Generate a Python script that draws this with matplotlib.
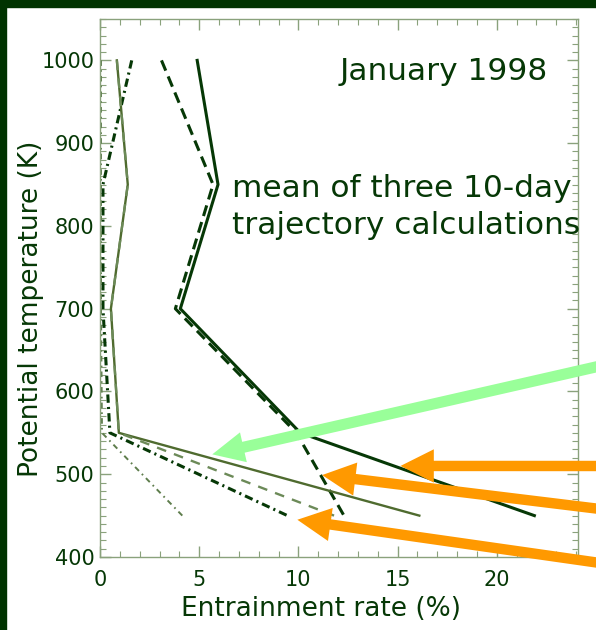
import matplotlib; matplotlib.use("Agg")
import matplotlib.pyplot as plt
from matplotlib.patches import Rectangle
from matplotlib.ticker import MultipleLocator

theta = [1000, 850, 700, 550, 450]
thick_solid = [4.9, 5.95, 4.05, 10.1, 21.9]
thick_dash = [3.1, 5.7, 3.8, 9.9, 12.3]
thick_dashdot = [1.6, 0.15, 0.15, 0.5, 9.45]
thin_solid = [0.85, 1.4, 0.55, 0.95, 16.1]
thin_dash = [0.85, 1.4, 0.55, 0.95, 11.8]
thin_dashdot = [0.05, 0.05, 0.05, 0.1, 4.15]

# arrow tips (data) and tails (figure pixels, from top-left)
green_tip = (5.66, 524); green_tail = (600, 366)
orange_tips = [(15.15, 510), (11.2, 499), (9.95, 445)]
orange_tails = [(600, 466), (600, 509), (600, 563)]

W, H = 596, 630
dark = "#063806"; olive = "#4f6b2f"; axcol = "#8aa27c"
plt.rcParams["lines.scale_dashes"] = False
plt.rcParams["font.family"] = "DejaVu Sans"

fig = plt.figure(figsize=(W/100, H/100), dpi=100, facecolor="white")
fig.patches.append(Rectangle((0, 0), 6/W, 1, transform=fig.transFigure, color="#003300", zorder=0))
fig.patches.append(Rectangle((0, 1-7/H), 1, 7/H, transform=fig.transFigure, color="#003300", zorder=0))
ax = fig.add_axes([100/W, (H-557)/H, 478/W, 538/H])

ax.plot(thick_solid, theta, color=dark, lw=2.2)
ax.plot(thick_dash, theta, color=dark, lw=2.2, dashes=(8, 4.5))
ax.plot(thick_dashdot, theta, color=dark, lw=2.2, dashes=(6, 3, 1.5, 3))
ax.plot(thin_solid, theta, color=olive, lw=1.7)
ax.plot(thin_dash, theta, color="#6c8a58", lw=1.7, dashes=(7, 6))
ax.plot(thin_dashdot, theta, color="#5e7d4c", lw=1.4, dashes=(4, 3, 1.2, 3))

ax.set_xlim(0, 24.1); ax.set_ylim(400, 1050)
ax.xaxis.set_major_locator(MultipleLocator(5)); ax.xaxis.set_minor_locator(MultipleLocator(1))
ax.yaxis.set_major_locator(MultipleLocator(100)); ax.yaxis.set_minor_locator(MultipleLocator(10))
ax.tick_params(which="both", direction="in", top=True, right=True, color=axcol, labelcolor=dark, labelsize=15)
ax.tick_params(which="major", length=8, width=1)
ax.tick_params(which="minor", length=4, width=0.8)
ax.tick_params(axis="x", pad=9); ax.tick_params(axis="y", pad=4)
for s in ax.spines.values():
    s.set_color(axcol); s.set_linewidth(1)

fig.text(321/W, 1-609/H, "Entrainment rate (%)", color=dark, fontsize=19, ha="center", va="center")
fig.text(31/W, 1-309/H, "Potential temperature (K)", color=dark, fontsize=19, ha="center", va="center", rotation=90)
fig.text(548/W, 1-80/H, "January 1998", color=dark, fontsize=22.5, ha="right", va="baseline")
fig.text(232/W, 1-197/H, "mean of three 10-day", color=dark, fontsize=22.5, ha="left", va="baseline")
fig.text(232/W, 1-234/H, "trajectory calculations", color=dark, fontsize=22.5, ha="left", va="baseline")

ax.annotate("", xy=green_tip, xycoords="data", xytext=(green_tail[0], H-green_tail[1]),
            textcoords="figure pixels", annotation_clip=False,
            arrowprops=dict(arrowstyle="simple,head_length=2.3,head_width=2.2,tail_width=0.8",
                            mutation_scale=10, color="#99ff99", shrinkA=0, shrinkB=0, lw=0))
for tip, tail in zip(orange_tips, orange_tails):
    ax.annotate("", xy=tip, xycoords="data", xytext=(tail[0], H-tail[1]),
                textcoords="figure pixels", annotation_clip=False,
                arrowprops=dict(arrowstyle="simple,head_length=2.4,head_width=2.4,tail_width=0.75",
                                mutation_scale=10, color="#ff9900", shrinkA=0, shrinkB=0, lw=0))

fig.savefig("out.png", dpi=100, facecolor="white")
